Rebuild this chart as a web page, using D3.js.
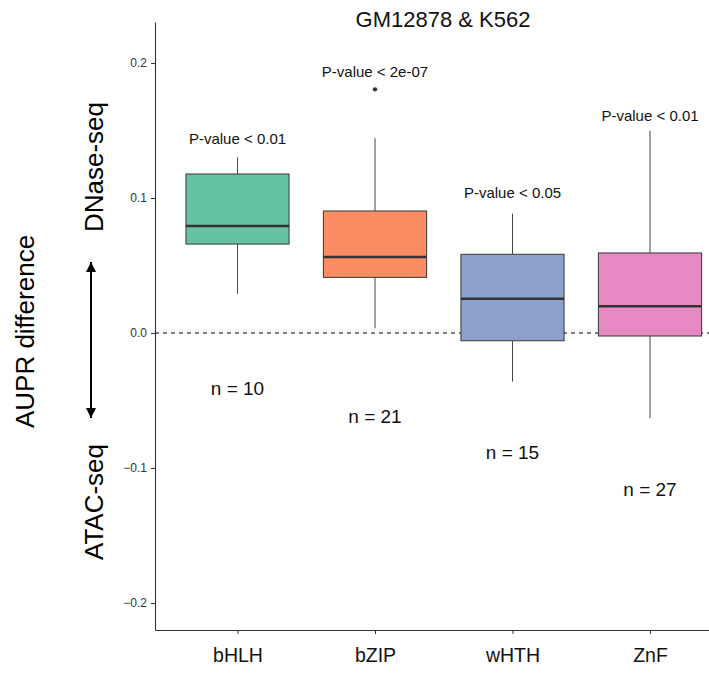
<!DOCTYPE html>
<html>
<head>
<meta charset="utf-8">
<script src="https://cdn.jsdelivr.net/npm/d3@7"></script>
<style>
  body { margin: 0; background: #fff; }
  text { font-family: "Liberation Sans", Helvetica, Arial, sans-serif; }
</style>
</head>
<body>
<svg id="stage" width="709" height="673"></svg>
<script>
var svg = d3.select("#stage");

// data
var families = ["bHLH", "bZIP", "wHTH", "ZnF"];
var whiskerLow = [0.029, 0.0035, -0.036, -0.063];
var q1 = [0.0659, 0.0412, -0.0057, -0.0022];
var medians = [0.0793, 0.0563, 0.0254, 0.0198];
var q3 = [0.1178, 0.0904, 0.0583, 0.0593];
var whiskerHigh = [0.130, 0.1442, 0.0884, 0.1499];
var outliers = [[], [0.1805], [], []];
var pLabels = ["P-value < 0.01", "P-value < 2e-07", "P-value < 0.05", "P-value < 0.01"];
var pLabelY = [0.140, 0.1894, 0.1002, 0.1572];
var counts = [10, 21, 15, 27];
var countY = [-0.0459, -0.0667, -0.0933, -0.1207];
var yTicks = [-0.2, -0.1, 0.0, 0.1, 0.2];
var colors = ["#66c2a5", "#fc8d62", "#8da0cb", "#e78ac3"];

var boxes = families.map(function(f, i){
  return { name: f, lo: whiskerLow[i], q1: q1[i], med: medians[i], q3: q3[i],
           hi: whiskerHigh[i], out: outliers[i], color: colors[i],
           p: pLabels[i], py: pLabelY[i], n: counts[i], ny: countY[i] };
});

////////////////////////////// SCALES

var plot = { left: 155, right: 732.5, top: 22, bottom: 630 };

var y = d3.scaleLinear()
          .domain([-0.22, 0.2304])
          .range([plot.bottom, plot.top]);

var x = d3.scalePoint()
          .domain(families)
          .range([plot.left, plot.right])
          .padding(0.6);

var boxW = x.step() * 0.75;

////////////////////////////// AXES

var fmt = function(d){
  var s = d3.format(".1f")(d);
  return s.replace("-", "\u2212");
};

var yAxis = svg.append("g")
    .attr("transform", "translate(" + plot.left + ",0)")
    .call(d3.axisLeft(y).tickValues(yTicks).tickFormat(fmt)
            .tickSizeInner(4).tickSizeOuter(0).tickPadding(4));

var xAxis = svg.append("g")
    .attr("transform", "translate(0," + plot.bottom + ")")
    .call(d3.axisBottom(x).tickSizeInner(4).tickSizeOuter(0).tickPadding(14));

[yAxis, xAxis].forEach(function(a){
  a.select(".domain").attr("stroke", "#333").attr("stroke-width", 1.1);
  a.selectAll(".tick line").attr("stroke", "#333");
});
yAxis.selectAll(".tick text").attr("fill", "#333").style("font-size", "12px");
xAxis.selectAll(".tick text").attr("fill", "#111").style("font-size", "19.5px");

// zero reference
svg.append("line")
   .attr("x1", plot.left).attr("x2", 709)
   .attr("y1", y(0)).attr("y2", y(0))
   .attr("stroke", "#000")
   .attr("stroke-width", 1)
   .attr("stroke-dasharray", "4,4");

////////////////////////////// BOXES

var g = svg.selectAll("g.box")
           .data(boxes)
           .enter()
           .append("g")
           .attr("class", "box");

// whiskers
g.append("line")
  .attr("x1", function(d){ return x(d.name); })
  .attr("x2", function(d){ return x(d.name); })
  .attr("y1", function(d){ return y(d.hi); })
  .attr("y2", function(d){ return y(d.q3); })
  .attr("stroke", "#444");
g.append("line")
  .attr("x1", function(d){ return x(d.name); })
  .attr("x2", function(d){ return x(d.name); })
  .attr("y1", function(d){ return y(d.q1); })
  .attr("y2", function(d){ return y(d.lo); })
  .attr("stroke", "#444");

g.append("rect")
  .attr("x", function(d){ return x(d.name) - boxW / 2; })
  .attr("width", boxW)
  .attr("y", function(d){ return y(d.q3); })
  .attr("height", function(d){ return y(d.q1) - y(d.q3); })
  .attr("fill", function(d){ return d.color; })
  .attr("stroke", "#444")
  .attr("stroke-width", 1.1);

g.append("line")
  .attr("x1", function(d){ return x(d.name) - boxW / 2; })
  .attr("x2", function(d){ return x(d.name) + boxW / 2; })
  .attr("y1", function(d){ return y(d.med); })
  .attr("y2", function(d){ return y(d.med); })
  .attr("stroke", "#333")
  .attr("stroke-width", 2.6);

g.each(function(d){
  d3.select(this).selectAll("circle")
    .data(d.out)
    .enter()
    .append("circle")
    .attr("cx", x(d.name))
    .attr("cy", function(v){ return y(v); })
    .attr("r", 2.2)
    .attr("fill", "#333");
});

// annotations
g.append("text")
  .attr("x", function(d){ return x(d.name); })
  .attr("y", function(d){ return y(d.py); })
  .attr("text-anchor", "middle")
  .style("font-size", "15px")
  .attr("fill", "#111")
  .text(function(d){ return d.p; });

g.append("text")
  .attr("x", function(d){ return x(d.name); })
  .attr("y", function(d){ return y(d.ny); })
  .attr("text-anchor", "middle")
  .style("font-size", "19px")
  .attr("fill", "#111")
  .text(function(d){ return "n = " + d.n; });

////////////////////////////// TITLES

svg.append("text")
   .attr("x", 443).attr("y", 27)
   .attr("text-anchor", "middle")
   .style("font-size", "22px")
   .attr("fill", "#111")
   .text("GM12878 & K562");

var sideLabel = function(txt, bx, cy){
  svg.append("text")
     .attr("transform", "translate(" + bx + "," + cy + ") rotate(-90)")
     .attr("text-anchor", "middle")
     .style("font-size", "26px")
     .attr("fill", "#000")
     .text(txt);
};
sideLabel("AUPR difference", 33.5, 331.5);
sideLabel("DNase-seq", 102.5, 167);
sideLabel("ATAC-seq", 102.5, 502);

// double headed arrow
var arrowTop = 0.0526, arrowBottom = -0.063, ax = 91;
var defs = svg.append("defs");
defs.append("marker")
    .attr("id", "head")
    .attr("viewBox", "0 0 10 10")
    .attr("refX", 10).attr("refY", 5)
    .attr("markerWidth", 10).attr("markerHeight", 10)
    .attr("markerUnits", "userSpaceOnUse")
    .attr("orient", "auto-start-reverse")
    .append("path")
    .attr("d", "M0,0 L10,5 L0,10 Z")
    .attr("fill", "#000");

svg.append("line")
   .attr("x1", ax).attr("x2", ax)
   .attr("y1", y(arrowTop)).attr("y2", y(arrowBottom))
   .attr("stroke", "#000")
   .attr("stroke-width", 2)
   .attr("marker-start", "url(#head)")
   .attr("marker-end", "url(#head)");
</script>
</body>
</html>
